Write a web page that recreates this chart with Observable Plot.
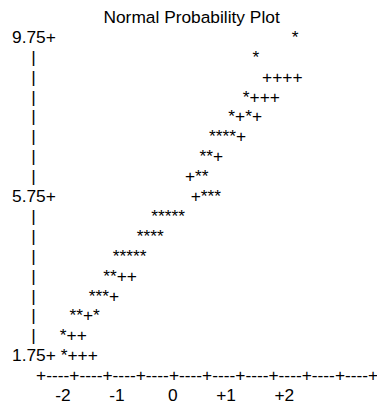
<!DOCTYPE html>
<html>
<head>
<meta charset="utf-8">
<script src="https://cdn.jsdelivr.net/npm/d3@7"></script>
<script src="https://cdn.jsdelivr.net/npm/@observablehq/plot@0.6"></script>
<style>
  html, body { margin: 0; padding: 0; background: #fff; }
  svg text { white-space: pre; }
</style>
</head>
<body>
<div id="chart"></div>
<script>
// Chart content (an ASCII-style normal probability plot)
const title = "Normal Probability Plot";
// one text row per half unit of the measured variable
const rowValues = [9.75, 9.25, 8.75, 8.25, 7.75, 7.25, 6.75, 6.25, 5.75, 5.25, 4.75, 4.25, 3.75, 3.25, 2.75, 2.25, 1.75];
const yTickLabels = ["9.75", "5.75", "1.75"];
// symbols in each row: * = observation, + = reference line
const rowSymbols = ["*", "*", "++++", "*+++", "*+*+", "****+", "**+", "+**", "+***", "*****", "****", "*****", "**++", "***+", "**+*", "*++", "*+++"];
// character column of the first symbol in each row (column 30 = quantile 0, 10 columns per unit)
const rowColumns = [54, 50, 52, 48, 45, 41, 39, 36, 33, 29, 26, 21, 19, 16, 12, 10, 6];
const xTickValues = [-2, -1, 0, 1, 2];
const xTickLabels = ["-2", "-1", "0", "+1", "+2"];

const pad = (n) => " ".repeat(Math.max(0, n));
const col = (q) => 30 + 10 * q; // column of a normal quantile

const lines = [];
lines.push(pad(19) + title);
rowValues.forEach((v, i) => {
  const lab = yTickLabels.find((t) => +t === v);
  const prefix = lab ? lab + "+" : "    |";
  lines.push(prefix + pad(rowColumns[i] - 5) + rowSymbols[i]);
});
lines.push(pad(5) + "+----".repeat(10) + "+");
let labelLine = "";
xTickValues.forEach((q, i) => {
  const s = xTickLabels[i];
  const start = col(q) - s.length + 1;
  labelLine += pad(start - labelLine.length) + s;
});
lines.push(labelLine);

const chart = Plot.plot({
  width: 377,
  height: 408,
  marginTop: 16.95,
  marginBottom: 12.95,
  marginLeft: 11.5,
  marginRight: 0,
  style: { fontFamily: "'Liberation Sans', Arial, sans-serif", fontSize: "13pt", background: "#fff", color: "#000" },
  x: { axis: null },
  y: { type: "point", domain: d3.range(lines.length), padding: 0, round: false, axis: null },
  marks: [
    Plot.text(lines, {
      y: (d, i) => i,
      text: (d) => d,
      frameAnchor: "left",
      textAnchor: "start",
      fontSize: "13pt",
      fill: "#000"
    })
  ]
});
document.getElementById("chart").appendChild(chart);
</script>
</body>
</html>
